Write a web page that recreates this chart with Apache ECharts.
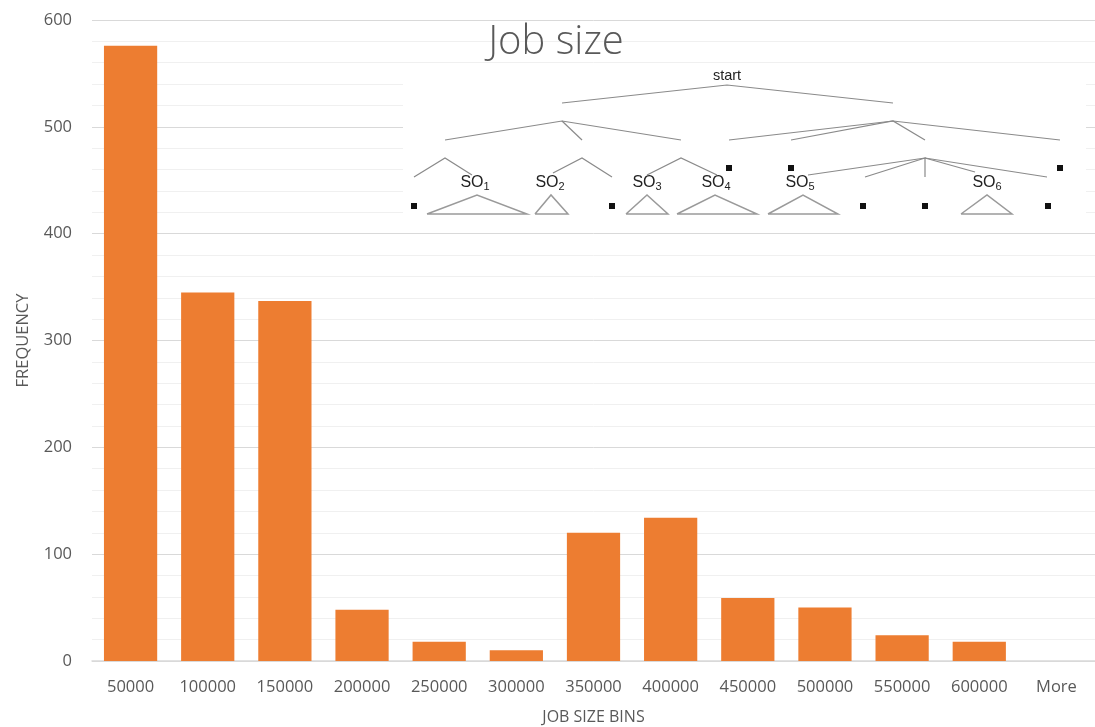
<!DOCTYPE html>
<html><head><meta charset="utf-8">
<script src="https://cdn.jsdelivr.net/npm/echarts@6/dist/echarts.min.js"></script>
<style>html,body{margin:0;padding:0;background:#fff}#c{width:1095px;height:727px}</style>
</head><body><div id="c"></div>
<script>
const categories = ['50000','100000','150000','200000','250000','300000','350000','400000','450000','500000','550000','600000','More'];
const frequency = [576, 345, 337, 48, 18, 10, 120, 134, 59, 50, 24, 18, 0];
const yTicks = {min: 0, max: 600, interval: 100};

const FONT = '"Open Sans", sans-serif';
const lineStyle = {stroke: '#8a8a8a', lineWidth: 1.2, fill: null};
const triStyle = {stroke: '#9a9a9a', lineWidth: 1.5, fill: null};

// decorative tree diagram overlay (as in the reference picture), on a white panel
const g = [];
g.push({type: 'rect', shape: {x: 403, y: 65, width: 683, height: 156}, style: {fill: '#fff'}, z: 5});
function pl(pts, st) { g.push({type: 'polyline', shape: {points: pts}, style: Object.assign({}, st || lineStyle), z: 10}); }
function sq(x, y) { g.push({type: 'rect', shape: {x: x - 3, y: y - 3, width: 6, height: 6}, style: {fill: '#111'}, z: 10}); }
function tri(ax, ay, bl, br, by) { pl([[bl, by], [ax, ay], [br, by], [bl, by]], triStyle); }
function so(n, x, y) {
  g.push({type: 'text', x: x, y: y, z: 10, style: {text: '{a|SO}{s|' + n + '}', align: 'center', verticalAlign: 'middle',
    rich: {a: {fontFamily: 'Liberation Sans, Arial', fontSize: 16, fill: '#222'},
           s: {fontFamily: 'Liberation Sans, Arial', fontSize: 11, fill: '#222', padding: [8, 0, 0, 0]}}}});
}
g.push({type: 'text', x: 727, y: 76, z: 10, style: {text: 'start', align: 'center', verticalAlign: 'middle',
  fontFamily: 'Liberation Sans, Arial', fontSize: 14.5, fill: '#222'}});
pl([[562, 103], [727, 85], [893, 103]]);
pl([[445, 140], [562, 121], [681, 140]]);
pl([[562, 121], [582, 140]]);
pl([[729, 140], [893, 121], [1060, 140]]);
pl([[791, 140], [893, 121], [925, 140]]);
pl([[414, 177], [445, 158], [472, 175]]);
pl([[553, 173], [582, 158], [612, 177]]);
pl([[647, 175], [681, 158], [717, 175]]);
pl([[808, 175], [925, 158], [1047, 177]]);
pl([[865, 177], [925, 158], [925, 177]]);
pl([[925, 158], [975, 172]]);
so(1, 475, 183); so(2, 550, 183); so(3, 647, 183); so(4, 716, 183); so(5, 800, 183); so(6, 987, 183);
tri(477, 195, 427, 527, 214);
tri(551, 195, 535, 568, 214);
tri(647, 195, 626, 668, 214);
tri(715, 195, 677, 757, 214);
tri(803, 195, 768, 838, 214);
tri(987, 195, 961, 1012, 214);
sq(414, 206); sq(612, 206); sq(729, 168); sq(791, 168); sq(863, 206); sq(925, 206); sq(1048, 206); sq(1060, 168);

const chart = echarts.init(document.getElementById('c'), null, {renderer: 'canvas'});
chart.setOption({
  animation: false,
  backgroundColor: '#fff',
  title: {text: 'Job size', left: 551, top: 18, textAlign: 'center', z: 20,
    textStyle: {fontFamily: FONT, fontWeight: 300, fontSize: 40, color: '#595959'}},
  grid: {left: 92, right: 0, top: 20, bottom: 66, containLabel: false, outerBoundsMode: 'none'},
  xAxis: {
    type: 'category', data: categories,
    name: 'JOB SIZE BINS', nameLocation: 'middle', nameGap: 48,
    nameTextStyle: {fontFamily: FONT, fontSize: 16, color: '#595959'},
    axisLine: {lineStyle: {color: '#d9d9d9', width: 1.5}},
    axisTick: {show: false},
    axisLabel: {fontFamily: FONT, fontSize: 16.5, color: '#595959', margin: 18}
  },
  yAxis: {
    type: 'value', min: yTicks.min, max: yTicks.max, interval: yTicks.interval,
    name: 'FREQUENCY', nameLocation: 'middle', nameGap: 60, nameRotate: 90,
    nameTextStyle: {fontFamily: FONT, fontSize: 16.5, color: '#595959'},
    axisLine: {show: false}, axisTick: {show: false},
    axisLabel: {fontFamily: FONT, fontSize: 16.5, color: '#595959', margin: 20},
    splitLine: {lineStyle: {color: '#d9d9d9', width: 1}},
    minorTick: {show: false, splitNumber: 5},
    minorSplitLine: {show: true, lineStyle: {color: '#f0f0f0', width: 1}}
  },
  series: [{
    type: 'bar', data: frequency, barCategoryGap: '31%',
    itemStyle: {color: '#ed7d31'}
  }],
  graphic: g
});
</script></body></html>
